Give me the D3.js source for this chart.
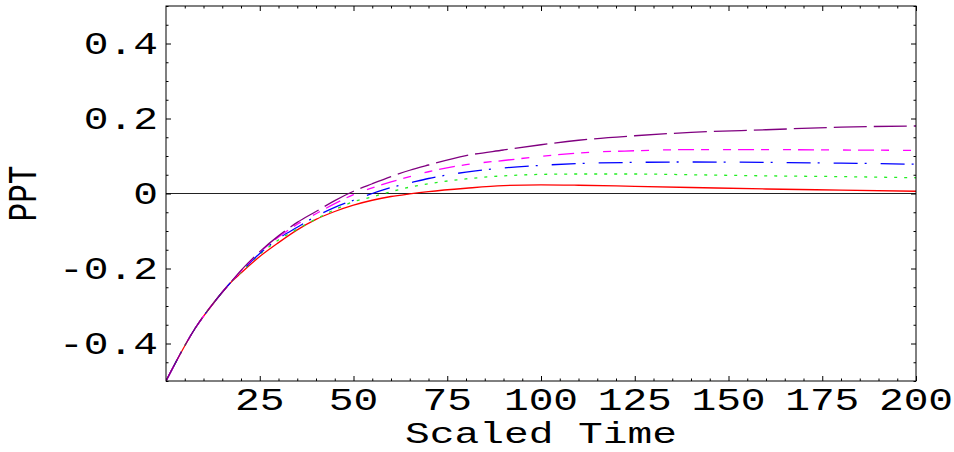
<!DOCTYPE html>
<html>
<head>
<meta charset="utf-8">
<script src="https://cdn.jsdelivr.net/npm/d3@7"></script>
<style>
  html, body { margin: 0; padding: 0; background: #fff; }
  svg { display: block; }
  text { font-family: "Liberation Mono", "DejaVu Sans Mono", monospace; fill: #000; }
</style>
</head>
<body>
<svg id="chart" width="954" height="452"></svg>
<script>
// ---- data ----
const times = [0, 8, 13, 17, 20, 25, 30, 35, 40, 45, 50, 55, 60, 65, 70, 80, 90, 100, 110, 125, 140, 160, 180, 200];
const seriesRed     = [-0.5, -0.356, -0.288, -0.240, -0.212, -0.168, -0.131, -0.097, -0.069, -0.048, -0.031, -0.018, -0.008, -0.001, 0.005, 0.014, 0.021, 0.023, 0.022, 0.019, 0.016, 0.012, 0.009, 0.006];
const seriesGreen   = [-0.5, -0.356, -0.288, -0.240, -0.210, -0.162, -0.124, -0.095, -0.068, -0.043, -0.022, -0.009, 0.005, 0.017, 0.026, 0.039, 0.047, 0.051, 0.052, 0.052, 0.050, 0.047, 0.045, 0.042];
const seriesBlue    = [-0.5, -0.356, -0.288, -0.240, -0.209, -0.160, -0.120, -0.090, -0.061, -0.037, -0.018, 0.000, 0.016, 0.028, 0.040, 0.057, 0.068, 0.075, 0.080, 0.083, 0.084, 0.083, 0.081, 0.078];
const seriesMagenta = [-0.5, -0.356, -0.288, -0.240, -0.207, -0.157, -0.116, -0.082, -0.054, -0.027, -0.003, 0.015, 0.031, 0.045, 0.058, 0.077, 0.088, 0.099, 0.108, 0.114, 0.117, 0.117, 0.116, 0.115];
const seriesPurple  = [-0.5, -0.356, -0.288, -0.240, -0.205, -0.155, -0.113, -0.077, -0.048, -0.019, 0.006, 0.026, 0.045, 0.062, 0.076, 0.101, 0.116, 0.130, 0.142, 0.154, 0.163, 0.170, 0.177, 0.180];

const xMajorTicks = [25, 50, 75, 100, 125, 150, 175, 200];
const xTickLabels = ["25", "50", "75", "100", "125", "150", "175", "200"];
const yMajorTicks = [-0.4, -0.2, 0, 0.2, 0.4];
const yTickLabels = ["-0.4", "-0.2", "0", "0.2", "0.4"];
const xTitle = "Scaled Time";
const yTitle = "PPT";

// ---- layout ----
const svg = d3.select("#chart");
const L = 166, R = 916, T = 6, B = 381;
const x = d3.scaleLinear().domain([0, 200]).range([L, R]);
const y = d3.scaleLinear().domain([-0.5, 0.5]).range([B, T]);
const SX = 1.33;
const FS = 31;

const styles = [
  { data: seriesRed,     color: "#ff0000", dash: null },
  { data: seriesGreen,   color: "#22ee22", dash: "3,7" },
  { data: seriesBlue,    color: "#0000ff", dash: "24,7,2,14" },
  { data: seriesMagenta, color: "#ff00ff", dash: "16,7,8,14,8,7" },
  { data: seriesPurple,  color: "#800080", dash: "33,7" }
];

svg.append("clipPath").attr("id", "clip")
  .append("rect").attr("x", L).attr("y", T).attr("width", R - L).attr("height", B - T);

// zero line
svg.append("line")
  .attr("x1", L).attr("x2", R).attr("y1", y(0)).attr("y2", y(0))
  .attr("stroke", "#222").attr("stroke-width", 1);

const line = d3.line()
  .x((d, i) => x(times[i]))
  .y(d => y(d))
  .curve(d3.curveMonotoneX);

const g = svg.append("g").attr("clip-path", "url(#clip)");
styles.forEach(s => {
  g.append("path")
    .attr("d", line(s.data))
    .attr("fill", "none")
    .attr("stroke", s.color)
    .attr("stroke-width", 1.3)
    .attr("stroke-dasharray", s.dash);
});

// frame
svg.append("rect")
  .attr("x", L).attr("y", T).attr("width", R - L).attr("height", B - T)
  .attr("fill", "none").attr("stroke", "#000").attr("stroke-width", 1);

// ticks (inward, on all four sides)
const xMinor = d3.range(0, 201, 5).filter(v => v % 25 !== 0);
const yMinor = d3.range(-10, 11).map(v => v * 0.05).filter(v => Math.abs(Math.round(v * 100)) % 20 !== 0);
const axB = d3.axisBottom(x).tickValues(xMajorTicks).tickSize(-5).tickFormat("");
const axBm = d3.axisBottom(x).tickValues(xMinor).tickSize(-2.5).tickFormat("");
const axT = d3.axisTop(x).tickValues(xMajorTicks).tickSize(-5).tickFormat("");
const axTm = d3.axisTop(x).tickValues(xMinor).tickSize(-2.5).tickFormat("");
const axL = d3.axisLeft(y).tickValues(yMajorTicks).tickSize(-5).tickFormat("");
const axLm = d3.axisLeft(y).tickValues(yMinor).tickSize(-2.5).tickFormat("");
const axR = d3.axisRight(y).tickValues(yMajorTicks).tickSize(-5).tickFormat("");
const axRm = d3.axisRight(y).tickValues(yMinor).tickSize(-2.5).tickFormat("");
[[axB, `translate(0,${B})`], [axBm, `translate(0,${B})`],
 [axT, `translate(0,${T})`], [axTm, `translate(0,${T})`],
 [axL, `translate(${L},0)`], [axLm, `translate(${L},0)`],
 [axR, `translate(${R},0)`], [axRm, `translate(${R},0)`]].forEach(([ax, tr]) => {
  const a = svg.append("g").attr("transform", tr).call(ax);
  a.select(".domain").remove();
  a.selectAll(".tick line").attr("stroke", "#000").attr("stroke-width", 1);
});

// tick labels
xMajorTicks.forEach((v, i) => {
  svg.append("text")
    .attr("transform", `translate(${x(v)},410) scale(${SX},1)`)
    .attr("text-anchor", "middle")
    .attr("font-size", FS)
    .text(xTickLabels[i]);
});
yMajorTicks.forEach((v, i) => {
  svg.append("text")
    .attr("transform", `translate(158,${y(v) + 10.5}) scale(${SX},1)`)
    .attr("text-anchor", "end")
    .attr("font-size", FS)
    .text(yTickLabels[i]);
});

// titles
svg.append("text")
  .attr("transform", `translate(${(L + R) / 2},443) scale(${SX * 31 / 30},1)`)
  .attr("text-anchor", "middle")
  .attr("font-size", 30)
  .text(xTitle);
svg.append("text")
  .attr("transform", `translate(36,${(T + B) / 2}) rotate(-90) scale(1,${SX})`)
  .attr("text-anchor", "middle")
  .attr("font-size", FS)
  .text(yTitle);
</script>
</body>
</html>
